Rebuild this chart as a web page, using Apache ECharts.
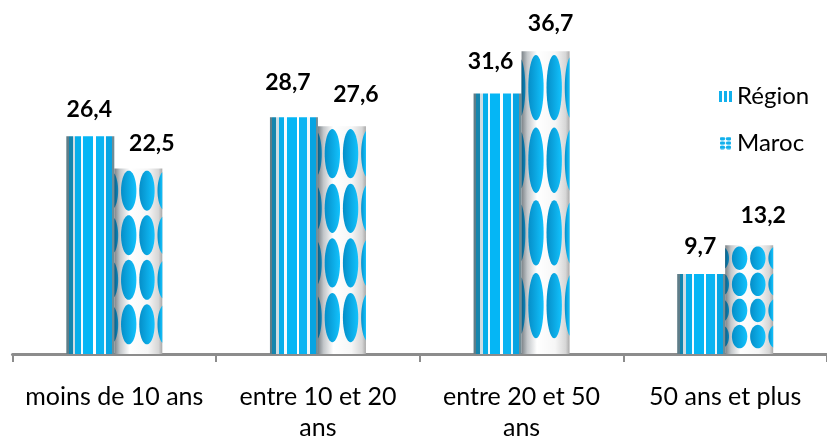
<!DOCTYPE html>
<html>
<head>
<meta charset="utf-8">
<script src="https://cdn.jsdelivr.net/npm/echarts@6/dist/echarts.min.js"></script>
<style>
html,body{margin:0;padding:0;background:#fff;}
#chart{width:827px;height:443px;}
</style>
</head>
<body>
<div id="chart"></div>
<script>
// ---- data ----
const categories = ['moins de 10 ans', 'entre 10 et 20 ans', 'entre 20 et 50 ans', '50 ans et plus'];
const tickLabels = ['moins de 10 ans', 'entre 10 et 20\nans', 'entre 20 et 50\nans', '50 ans et plus'];
const seriesNames = ['Région', 'Maroc'];
const regionValues = [26.4, 28.7, 31.6, 9.7];
const marocValues = [22.5, 27.6, 36.7, 13.2];

// ---- label nudges (style only) ----
const regionLabelNudge = [[-1, -27], [-6, -34.5], [-7, -32], [-1, -27.5]];
const marocLabelNudge = [[13.5, -25], [14, -32], [5, -27.5], [14, -30]];

const BAR_W = 48;
const LABEL_LH = 24;

function fmt(v) { return String(v.toFixed(1)).replace('.', ','); }

// stripe gradient for Région bars
const stripeSpec = [
  [0.00, 0.05, '#5f7d88'],
  [0.05, 0.13, '#1585ad'],
  [0.13, 0.19, '#cfdde3'],
  [0.19, 0.30, '#07aeea'],
  [0.30, 0.35, '#f4fbff'],
  [0.35, 0.56, '#05b6f5'],
  [0.56, 0.61, '#ffffff'],
  [0.61, 0.78, '#0ab4f2'],
  [0.78, 0.83, '#eef8fc'],
  [0.83, 0.95, '#07a4e2'],
  [0.95, 1.00, '#6f8c96']
];
const stripeStops = [];
stripeSpec.forEach(s => {
  stripeStops.push({ offset: s[0], color: s[2] });
  stripeStops.push({ offset: s[1], color: s[2] });
});
const regionFill = new echarts.graphic.LinearGradient(0, 0, 1, 0, stripeStops);

const marocFill = new echarts.graphic.LinearGradient(0, 0, 1, 0, [
  { offset: 0, color: '#7c8388' },
  { offset: 0.12, color: '#c3c7ca' },
  { offset: 0.32, color: '#ffffff' },
  { offset: 0.7, color: '#f6f6f6' },
  { offset: 0.92, color: '#d6d6d6' },
  { offset: 1, color: '#a9a9a9' }
]);

// legend icons
function iconRegion() {
  const c = document.createElement('canvas'); c.width = 13; c.height = 11;
  const g = c.getContext('2d');
  g.fillStyle = '#12b0ec';
  [0, 5, 10].forEach(x => g.fillRect(x, 0, 3, 11));
  return 'image://' + c.toDataURL();
}
function iconMaroc() {
  const c = document.createElement('canvas'); c.width = 13; c.height = 15;
  const g = c.getContext('2d');
  g.fillStyle = '#12b0ec';
  [2.5, 7.5, 12.5].forEach(y => {
    [3, 10].forEach(x => {
      g.beginPath(); g.ellipse(x, y, 3.2, 2.1, 0, 0, Math.PI * 2); g.fill();
    });
  });
  return 'image://' + c.toDataURL();
}

const ellCols = [-0.08, 0.30, 0.68, 1.06];
const ellRows = [0.12, 0.36, 0.60, 0.84];

function ellipsePoly(cx, cy, rx, ry, x0, x1, y0, y1) {
  const pts = [];
  const N = 48;
  for (let k = 0; k < N; k++) {
    const a = k / N * Math.PI * 2;
    let x = cx + rx * Math.cos(a), y = cy + ry * Math.sin(a);
    x = Math.min(Math.max(x, x0), x1);
    y = Math.min(Math.max(y, y0), y1);
    pts.push([x, y]);
  }
  return pts;
}

function renderEllipses(params, api) {
  const idx = api.value(0), v = api.value(1);
  const top = api.coord([idx, v]);
  const base = api.coord([idx, 0]);
  const x0 = top[0], x1 = top[0] + BAR_W;
  const y0 = top[1], y1 = base[1];
  const h = y1 - y0;
  const children = [];
  ellCols.forEach((fc, ci) => {
    ellRows.forEach(fr => {
      const cx = x0 + fc * BAR_W, cy = y0 + fr * h;
      const rx = 0.16 * BAR_W, ry = 0.108 * h;
      const dark = ci === 0;
      children.push({
        type: 'polygon',
        shape: { points: ellipsePoly(cx, cy, rx, ry, x0, x1, y0, y1) },
        style: {
          fill: new echarts.graphic.LinearGradient(0, 0, 1, 0, dark ? [
            { offset: 0, color: '#0a5f86' }, { offset: 1, color: '#0a86bd' }
          ] : [
            { offset: 0, color: '#058ec8' }, { offset: 1, color: '#12c2fd' }
          ])
        }
      });
    });
  });
  return { type: 'group', children: children };
}

const labelStyle = {
  show: true, position: 'top', distance: 0,
  fontFamily: 'Lato', fontWeight: 'bold', fontSize: 23, color: '#000',
  lineHeight: LABEL_LH,
  formatter: p => fmt(p.value)
};

const chart = echarts.init(document.getElementById('chart'), null, { renderer: 'canvas' });
chart.setOption({
  animation: false,
  backgroundColor: '#ffffff',
  grid: { left: 12.5, right: -8, top: 24.1, bottom: 84.5 },
  legend: {
    orient: 'vertical', left: 714, top: 78, itemGap: 21,
    itemWidth: 13, itemHeight: 13,
    textStyle: { fontFamily: 'Lato', fontSize: 24, color: '#000', lineHeight: 26 },
    data: [
      { name: seriesNames[0], icon: iconRegion() },
      { name: seriesNames[1], icon: iconMaroc() }
    ]
  },
  xAxis: {
    type: 'category', data: categories,
    axisLine: { lineStyle: { color: '#8c8c8c', width: 3 } },
    axisTick: { show: true, length: 8, lineStyle: { color: '#8c8c8c', width: 2 } },
    axisLabel: {
      interval: 0, margin: 27, fontFamily: 'Lato', fontSize: 25, color: '#000', lineHeight: 31,
      formatter: (v, i) => tickLabels[i]
    }
  },
  yAxis: { type: 'value', min: 0, max: 40, show: false, splitLine: { show: false } },
  series: [
    {
      name: seriesNames[0], type: 'bar', barWidth: BAR_W, barGap: '0%',
      itemStyle: { color: regionFill },
      data: regionValues.map((v, i) => ({
        value: v,
        label: { offset: [regionLabelNudge[i][0], regionLabelNudge[i][1] + LABEL_LH / 2] }
      })),
      label: labelStyle
    },
    {
      name: seriesNames[1], type: 'bar', barWidth: BAR_W, barGap: '0%',
      itemStyle: { color: marocFill },
      data: marocValues.map((v, i) => ({
        value: v,
        label: { offset: [marocLabelNudge[i][0], marocLabelNudge[i][1] + LABEL_LH / 2] }
      })),
      label: labelStyle
    },
    {
      name: 'marocPattern', type: 'custom', silent: true, z: 3,
      renderItem: renderEllipses,
      data: marocValues.map((v, i) => [i, v])
    }
  ]
});
</script>
</body>
</html>
